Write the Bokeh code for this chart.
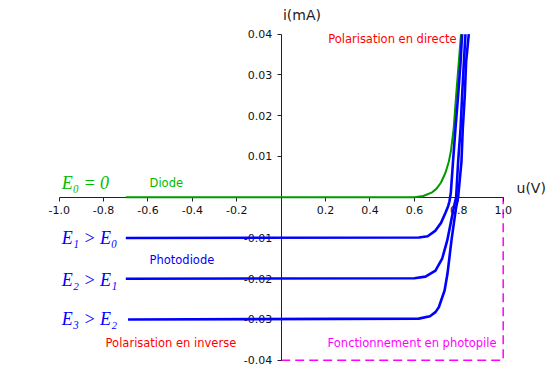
from bokeh.plotting import figure
from bokeh.models import Range1d, FixedTicker, PrintfTickFormatter
from bokeh.core.properties import value
from bokeh.embed import file_html
from bokeh.resources import INLINE

# ---- data ----
x_ticks = [-1.0, -0.8, -0.6, -0.4, -0.2, 0.2, 0.4, 0.6, 0.8, 1.0]
y_ticks = [-0.04, -0.03, -0.02, -0.01, 0.01, 0.02, 0.03, 0.04]

u_diode = [-0.7, 0.60, 0.64, 0.68, 0.70, 0.72, 0.74, 0.755, 0.765, 0.777, 0.788, 0.800, 0.810]
i_diode = [0.0, 0.0, 0.0003, 0.0012, 0.0021, 0.0036, 0.0060, 0.0087, 0.0115, 0.0169, 0.0250, 0.0332, 0.0400]

u_e1 = [-0.7, 0.62, 0.66, 0.695, 0.72, 0.74, 0.752, 0.758, 0.764, 0.773, 0.785, 0.797, 0.808, 0.815]
i_e1 = [-0.0100, -0.0099, -0.0096, -0.0082, -0.0063, -0.0038, -0.0022, -0.0010, 0.0010, 0.0080, 0.0169, 0.0250, 0.0332, 0.0400]

u_e2 = [-0.7, 0.60, 0.65, 0.695, 0.725, 0.748, 0.763, 0.7775, 0.788, 0.797, 0.808, 0.815, 0.823, 0.830]
i_e2 = [-0.0200, -0.0199, -0.0195, -0.0180, -0.0151, -0.0106, -0.0065, -0.0025, 0.0, 0.0087, 0.0169, 0.0250, 0.0332, 0.0400]

u_e3 = [-0.69, 0.62, 0.67, 0.695, 0.710, 0.736, 0.749, 0.758, 0.767, 0.7775, 0.788, 0.797, 0.812, 0.818, 0.827, 0.833, 0.845]
i_e3 = [-0.0300, -0.0298, -0.0292, -0.0282, -0.0270, -0.0229, -0.0188, -0.0147, -0.0106, -0.0065, -0.0025, 0.0, 0.0087, 0.0169, 0.0250, 0.0332, 0.0400]

photopile_u = [0.0, 1.0, 1.0]
photopile_i = [-0.04, -0.04, 0.0]

GREEN_LINE = "#009900"
GREEN_TEXT = "#00bb00"
BLUE = "#0000ff"
RED = "#ff0000"
MAGENTA = "#ff00ff"

p = figure(width=552, height=387,
           x_range=Range1d(-1.2644, 1.2221), y_range=Range1d(-0.0467, 0.04827),
           min_border=0, output_backend="svg", toolbar_location=None)
p.outline_line_color = None
p.xgrid.visible = False
p.ygrid.visible = False

for ax in (p.xaxis[0], p.yaxis[0]):
    ax.fixed_location = 0
    ax.axis_line_color = "#222222"
    ax.axis_line_width = 1
    ax.major_tick_line_color = "#222222"
    ax.major_tick_out = 4
    ax.major_tick_in = 0
    ax.minor_tick_out = 0
    ax.minor_tick_in = 0
    ax.major_label_text_font = "DejaVu Sans"
    ax.major_label_text_font_size = "11px"
    ax.major_label_text_color = "#111111"
    ax.major_label_standoff = 5

p.xaxis[0].ticker = FixedTicker(ticks=x_ticks)
p.xaxis[0].formatter = PrintfTickFormatter(format="%.1f")
p.xaxis[0].bounds = (-1.0, 1.0)
p.yaxis[0].ticker = FixedTicker(ticks=y_ticks)
p.yaxis[0].formatter = PrintfTickFormatter(format="%.2f")
p.yaxis[0].bounds = (-0.04, 0.04)

# dashed photopile region
p.line(photopile_u, photopile_i, line_color=MAGENTA, line_width=1.5, line_dash="9 5")

# curves
p.line(u_diode, i_diode, line_color=GREEN_LINE, line_width=2, level="overlay")
for uu, ii in ((u_e1, i_e1), (u_e2, i_e2), (u_e3, i_e3)):
    p.line(uu, ii, line_color=BLUE, line_width=2.6, level="overlay")

sans = value("DejaVu Sans")
serif = value("Liberation Serif")

def label(x, y, txt, color, size="11.5px", font=sans, style="normal", align="left"):
    p.text(x=[x], y=[y], text=[txt], text_color=color, text_font=font,
           text_font_size=size, text_font_style=style, text_align=align,
           text_baseline="middle")

label(0.008, 0.0446, "i(mA)", "#222222", size="14px")
label(1.06, 0.0022, "u(V)", "#222222", size="14px")
label(0.790, 0.0387, "Polarisation en directe", RED, align="right")
label(-0.593, 0.0036, "Diode", GREEN_TEXT)
label(-0.593, -0.0153, "Photodiode", BLUE)
label(-0.791, -0.0357, "Polarisation en inverse", RED)
label(0.97, -0.0357, "Fonctionnement en photopile", MAGENTA, align="right")

label(-0.989, 0.0034, "E\u2080 = 0", GREEN_TEXT, size="18px", font=serif, style="italic")
label(-0.989, -0.0099, "E\u2081 > E\u2080", BLUE, size="18px", font=serif, style="italic")
label(-0.989, -0.0202, "E\u2082 > E\u2081", BLUE, size="18px", font=serif, style="italic")
label(-0.989, -0.0300, "E\u2083 > E\u2082", BLUE, size="18px", font=serif, style="italic")

open("out.html", "w").write(file_html(p, INLINE))
